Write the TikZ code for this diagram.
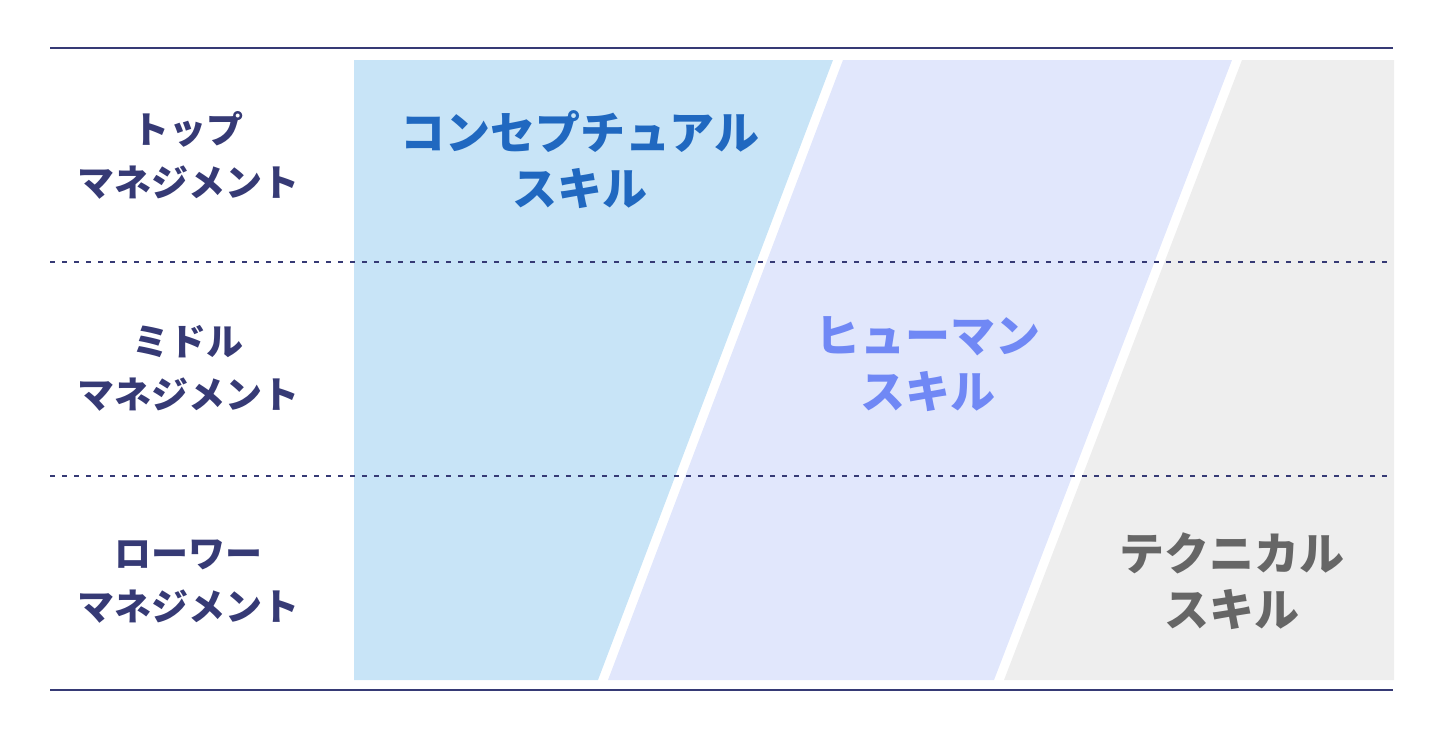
\documentclass[tikz,border=0pt]{standalone}
\usepackage{fontspec}
\newfontfamily\jp{Noto Sans CJK JP}
\definecolor{navy}{HTML}{363A75}
\definecolor{blueT}{HTML}{2068C0}
\definecolor{purpT}{HTML}{7088F5}
\definecolor{grayT}{HTML}{666666}
\definecolor{blueF}{HTML}{C8E4F7}
\definecolor{purpF}{HTML}{E1E7FC}
\definecolor{grayF}{HTML}{EEEEEE}
\tikzset{
  rule/.style={draw=navy, line width=2pt},
  sep/.style={draw=navy, line width=1.4pt, dash pattern=on 5pt off 7pt},
  level/.style={font=\jp\bfseries\fontsize{37}{53}\selectfont, text=navy, align=center, inner sep=0pt},
  skill/.style={font=\jp\bfseries\fontsize{45}{56}\selectfont, align=center, inner sep=0pt},
}
\begin{document}
\begin{tikzpicture}[x=1pt,y=-1pt]
\useasboundingbox (0,0) rectangle (1440,736);
% skill bands
\fill[blueF] (354,60) -- (833,60) -- (598,680) -- (354,680) -- cycle;
\fill[purpF] (843,60) -- (1232,60) -- (994,680) -- (608,680) -- cycle;
\fill[grayF] (1242,60) -- (1394,60) -- (1394,680) -- (1004,680) -- cycle;
% rules
\coordinate (t1) at (50,48); \coordinate (t2) at (1393,48);
\coordinate (b1) at (50,690); \coordinate (b2) at (1393,690);
\coordinate (d1) at (50,262); \coordinate (d2) at (1388,262);
\coordinate (e1) at (50,476); \coordinate (e2) at (1388,476);
\draw[rule] (t1) -- (t2);
\draw[rule] (b1) -- (b2);
\draw[sep] (d1) -- (d2);
\draw[sep] (e1) -- (e2);
% level labels
\node[level] (top) at (188,155) {トップ\\マネジメント};
\node[level] (mid) at (188,368) {ミドル\\マネジメント};
\node[level] (low) at (188,582) {ローワー\\マネジメント};
% skill labels
\node[skill, text=blueT] (con) at (580,160) {コンセプチュアル\\スキル};
\node[skill, text=purpT] (hum) at (928,364) {ヒューマン\\スキル};
\node[skill, text=grayT] (tec) at (1232,581) {テクニカル\\スキル};
\end{tikzpicture}
\end{document}
